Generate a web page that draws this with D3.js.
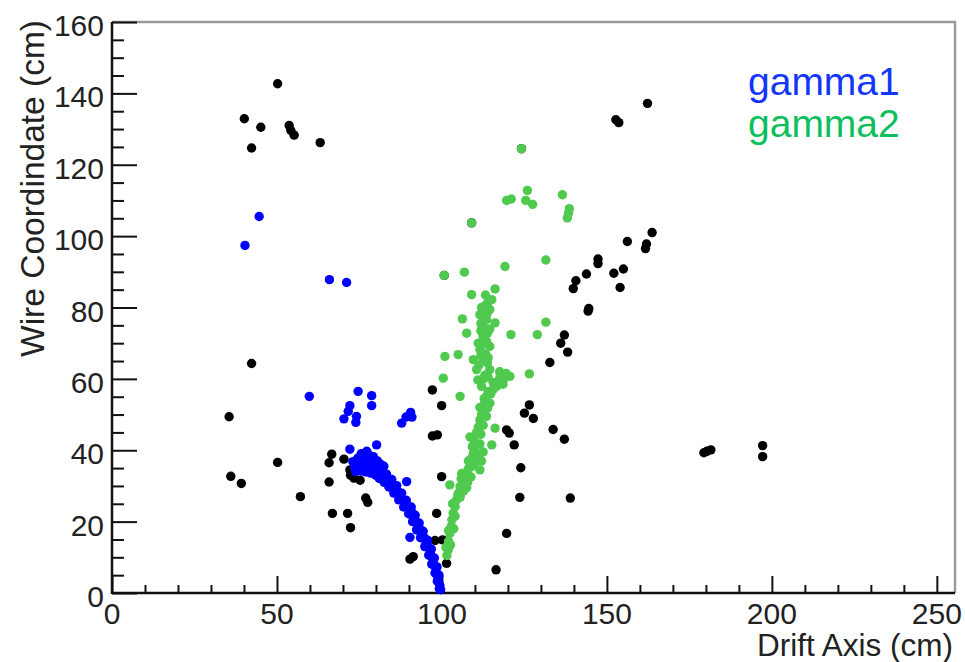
<!DOCTYPE html>
<html>
<head>
<meta charset="utf-8">
<script src="https://cdn.jsdelivr.net/npm/d3@7/dist/d3.min.js"></script>
<style>
  html, body { margin: 0; padding: 0; background: #fff; }
  svg { display: block; }
  text { font-family: "Liberation Sans", Arial, Helvetica, sans-serif; }
</style>
</head>
<body>
<svg id="chart" width="965" height="662"></svg>
<script>
// Hits not assigned to any shower (drift cm, wire cm)
const otherHits = [
  [50.2,142.7],[40.1,132.9],[45.1,130.5],[53.7,131.0],[54.2,129.6],[55.2,128.3],[42.3,124.7],[63.1,126.2],
  [162.3,137.2],[152.7,132.6],[153.6,131.8],[163.7,101.0],[162.0,97.8],[161.7,96.5],[156.2,98.5],
  [147.3,93.6],[147.3,92.3],[143.8,89.4],[140.6,87.5],[139.8,85.3],[152.1,89.6],[155.0,90.8],[154.0,85.6],
  [144.5,79.7],[144.3,79.0],[137.1,72.3],[136.0,70.0],[138.1,67.5],[132.7,64.6],
  [126.5,52.7],[125.0,50.4],[127.7,48.9],[133.7,45.8],[137.1,43.1],[123.9,35.1],[123.6,26.8],[138.9,26.6],
  [179.4,39.3],[180.3,39.7],[181.5,40.1],[197.2,41.3],[197.2,38.2],
  [42.3,64.3],[35.5,49.4],[50.2,36.6],[36.0,32.7],[39.2,30.7],[57.1,27.0],[66.6,38.9],[65.8,36.5],
  [70.3,37.5],[72.1,34.5],[72.3,33.0],[73.3,32.2],[75.2,31.6],[65.8,31.1],[76.9,26.6],[77.5,25.4],
  [66.8,22.3],[71.4,22.3],[72.3,18.3],
  [97.1,56.9],[99.9,52.5],[97.1,44.0],[98.6,44.3],[99.9,32.6],[98.4,22.3],[100.2,14.9],[97.9,14.7],
  [91.3,10.2],[90.3,9.5],[101.4,8.3],[116.4,6.5],[119.6,16.7],[121.9,41.5],[119.6,45.7],[120.4,44.8],
  [124.1,124.5],[109.0,103.7],[100.7,89.0]
];

// Hits of the first photon shower
const gamma1Hits = [
  [73.6,35.1],[74.2,36.4],[73.9,34.0],[75.2,35.3],[75.8,36.8],[75.5,34.2],[76.7,35.1],[77.3,36.2],
  [76.9,33.9],[78.2,34.8],[78.8,35.9],[78.4,33.6],[79.7,34.2],[80.3,35.3],[79.9,33.0],[81.2,33.4],
  [81.8,34.4],[81.0,32.1],[82.7,32.3],[83.2,33.3],[82.5,31.0],[84.2,30.9],[84.8,31.8],[83.9,29.7],
  [85.8,29.2],[86.3,30.1],[85.4,28.0],[87.3,27.2],[87.8,28.0],[86.9,26.1],[88.8,25.2],[89.2,26.0],
  [88.4,24.1],[90.3,23.3],[90.7,24.1],[89.9,22.2],[91.5,21.0],[91.9,21.8],[91.1,20.0],[92.7,18.8],
  [93.1,19.6],[92.3,17.7],[93.9,16.5],[94.3,17.3],[93.5,15.5],[95.2,14.0],[95.6,14.8],[94.8,13.0],
  [96.4,11.5],[96.8,12.3],[96.0,10.6],[97.3,9.0],[97.7,9.8],[96.9,8.1],[98.2,6.5],[98.5,7.3],
  [97.9,5.6],[98.8,4.2],[99.1,5.0],[98.6,3.3],[99.4,2.0],[99.2,1.2],
  [74.8,35.6],[76.0,34.6],[77.8,35.6],[79.0,34.6],[80.6,34.0],[82.0,33.0],[83.5,31.6],[85.0,30.0],
  [86.6,28.4],[88.0,26.2],[89.6,24.4],[91.0,22.5],[92.1,20.0],[93.4,17.9],[94.6,15.5],[95.8,13.0],
  [96.7,10.4],[97.6,7.9],[98.4,5.4],[99.0,3.0],[99.6,0.9],
  [74.5,37.8],[75.5,39.0],[73.0,36.8],[79.5,36.2],[81.5,36.0],
  [76.1,38.2],[78.0,38.6],[80.5,37.0],[82.4,35.5],[77.2,37.3],[79.2,38.2],
  [59.8,55.1],[74.6,56.5],[78.7,55.3],[78.7,52.5],[72.1,52.5],[71.6,50.9],[70.3,48.8],[74.1,49.5],
  [73.9,47.8],[87.8,47.6],[89.1,49.3],[90.5,50.6],[90.9,49.3],[72.1,40.3],[77.2,39.7],[80.2,41.5],
  [89.3,31.2],[90.3,15.6],[44.6,105.5],[40.3,97.4],[65.9,87.8],[71.1,87.0]
];

// Hits of the second photon shower
const gamma2Hits = [
  [124.1,124.5],[125.9,112.8],[125.4,110.0],[127.5,108.9],[136.5,111.6],[138.6,107.7],[138.4,106.5],
  [138.0,105.1],[119.6,110.0],[121.0,110.4],[109.0,103.7],[131.5,93.3],[119.1,91.5],[106.8,89.9],
  [100.7,89.0],[109.0,83.6],[116.1,85.2],[131.5,75.9],[128.9,72.4],[126.5,61.4],[120.9,72.4],
  [106.2,76.8],[100.9,66.3],[104.9,66.8],[107.5,72.8],[100.4,60.2],[105.5,55.1],[116.1,46.2],
  [115.1,41.5],[102.4,30.3],
  [115.1,82.2],[114.5,79.4],[111.5,78.0],[112.5,76.1],[116.1,75.7],[113.5,76.6],[112.5,74.7],
  [112.5,71.9],[114.5,69.1],[111.5,68.2],[112.5,65.4],[109.5,65.4],[110.5,62.6],[114.5,62.6],
  [110.9,59.7],[112.0,57.9],[116.6,57.9],[117.6,60.7],[118.6,59.7],[120.6,60.7],[113.5,55.1],
  [114.5,53.2],[112.5,51.3],[111.5,48.5],[108.5,43.7],[110.0,42.4],[110.0,40.1],[110.5,37.3],
  [111.5,34.5],[109.0,35.4],[107.0,33.6],[105.5,29.8],[104.4,26.1],[103.4,22.4],[102.4,16.7],
  [101.9,12.1],
  [113.0,80.5],[111.8,73.5],[113.8,72.8],[111.0,70.0],[113.2,67.0],[111.2,63.8],[113.0,61.0],
  [115.5,59.0],[119.5,61.5],[114.0,56.5],[113.0,53.5],[112.0,50.0],[111.0,46.5],[110.5,45.0],
  [109.2,41.0],[111.0,38.5],[109.8,36.2],[108.0,34.8],[106.8,31.5],[106.2,30.5],[105.0,28.0],
  [104.0,24.2],[103.0,20.5],[102.8,18.6],[102.0,14.5],[101.5,10.5],[104.8,27.5],[105.8,32.0],
  [108.0,37.0],[109.5,39.0],
  [101.2,12.8],[102.0,17.5],[102.6,13.5],[103.2,25.0],[104.0,21.5],[103.6,18.0],
  [105.5,26.8],[106.5,28.5],[107.8,31.0],[106.0,33.5],[108.8,32.5],[107.5,29.5],
  [109.0,37.8],[110.2,39.5],[111.5,41.8],[112.0,37.0],[109.5,43.0],[111.8,44.5],[112.5,39.5],
  [112.5,47.0],[113.5,49.5],[111.5,52.0],[113.8,51.8],[114.8,55.8],[112.8,54.5],
  [115.5,57.0],[116.8,59.2],[117.5,62.0],[112.5,60.0],[114.0,60.5],[118.5,58.5],
  [111.8,66.5],[113.8,64.5],[114.0,66.0],[112.0,69.5],[113.5,70.5],[112.2,73.0],[114.5,74.0],
  [111.8,75.5],[113.8,78.5],[112.0,80.0],[114.0,81.5],[113.2,83.5]
];

const xMajorTicks = [0, 50, 100, 150, 200, 250];
const yMajorTicks = [0, 20, 40, 60, 80, 100, 120, 140, 160];
const legendLabels = ["gamma1", "gamma2"];

const svg = d3.select("#chart");
const frame = { left: 112, right: 955, top: 22, bottom: 593 };

const x = d3.scaleLinear().domain([0, 255.5]).range([frame.left, frame.right]);
const y = d3.scaleLinear().domain([0, 160]).range([frame.bottom, frame.top]);

// frame (top and right sides)
svg.append("path")
  .attr("d", `M${frame.left},${frame.top}H${frame.right}V${frame.bottom}`)
  .attr("fill", "none").attr("stroke", "#9a9a9a").attr("stroke-width", 2.5);

// x axis: ticks drawn inward
const xAxis = d3.axisTop(x)
  .tickValues(d3.range(0, 251, 10))
  .tickSize(8)
  .tickFormat("");
const gx = svg.append("g").attr("transform", `translate(0,${frame.bottom})`).call(xAxis);
gx.selectAll(".tick line")
  .attr("y2", d => xMajorTicks.includes(d) ? -17 : -8)
  .attr("stroke", "#111").attr("stroke-width", 2);
gx.select(".domain").remove();

// y axis: ticks drawn inward
const yAxis = d3.axisRight(y)
  .tickValues(d3.range(0, 161, 5))
  .tickSize(12)
  .tickFormat("");
const gy = svg.append("g").attr("transform", `translate(${frame.left},0)`).call(yAxis);
gy.selectAll(".tick line")
  .attr("x2", d => yMajorTicks.includes(d) ? 25 : 12)
  .attr("stroke", "#111").attr("stroke-width", 2);
gy.select(".domain").remove();

// axis lines
svg.append("line").attr("x1", frame.left).attr("x2", frame.right)
  .attr("y1", frame.bottom).attr("y2", frame.bottom)
  .attr("stroke", "#111").attr("stroke-width", 2.5);
svg.append("line").attr("x1", frame.left).attr("x2", frame.left)
  .attr("y1", frame.top).attr("y2", frame.bottom + 1)
  .attr("stroke", "#111").attr("stroke-width", 2.5);

// tick labels
svg.append("g").selectAll("text").data(xMajorTicks).join("text")
  .attr("x", d => x(d)).attr("y", 624)
  .attr("text-anchor", "middle")
  .attr("font-size", 30).attr("fill", "#222")
  .text(d => d);

svg.append("g").selectAll("text").data(yMajorTicks).join("text")
  .attr("x", 104).attr("y", d => y(d) + 14)
  .attr("text-anchor", "end")
  .attr("font-size", 30).attr("fill", "#222")
  .text(d => d);

// axis titles
svg.append("text")
  .attr("x", 953).attr("y", 656)
  .attr("text-anchor", "end")
  .attr("font-size", 31.5).attr("fill", "#222")
  .text("Drift Axis (cm)");

svg.append("text")
  .attr("transform", "translate(44,20) rotate(-90)")
  .attr("text-anchor", "end")
  .attr("font-size", 33.5).attr("fill", "#222")
  .text("Wire Coordindate (cm)");

// hits
const layers = [
  { data: otherHits, color: "#000000" },
  { data: gamma1Hits, color: "#0000ff" },
  { data: gamma2Hits, color: "#4fca4f" }
];
layers.forEach(layer => {
  svg.append("g").selectAll("circle").data(layer.data).join("circle")
    .attr("cx", d => x(d[0]))
    .attr("cy", d => y(d[1]))
    .attr("r", 4.7)
    .attr("fill", layer.color);
});

// legend
const legendColors = ["#1236ff", "#0cbf5c"];
svg.append("g").selectAll("text").data(legendLabels).join("text")
  .attr("x", 748).attr("y", (d, i) => 95 + i * 42)
  .attr("font-size", 39)
  .attr("fill", (d, i) => legendColors[i])
  .text(d => d);
</script>
</body>
</html>
